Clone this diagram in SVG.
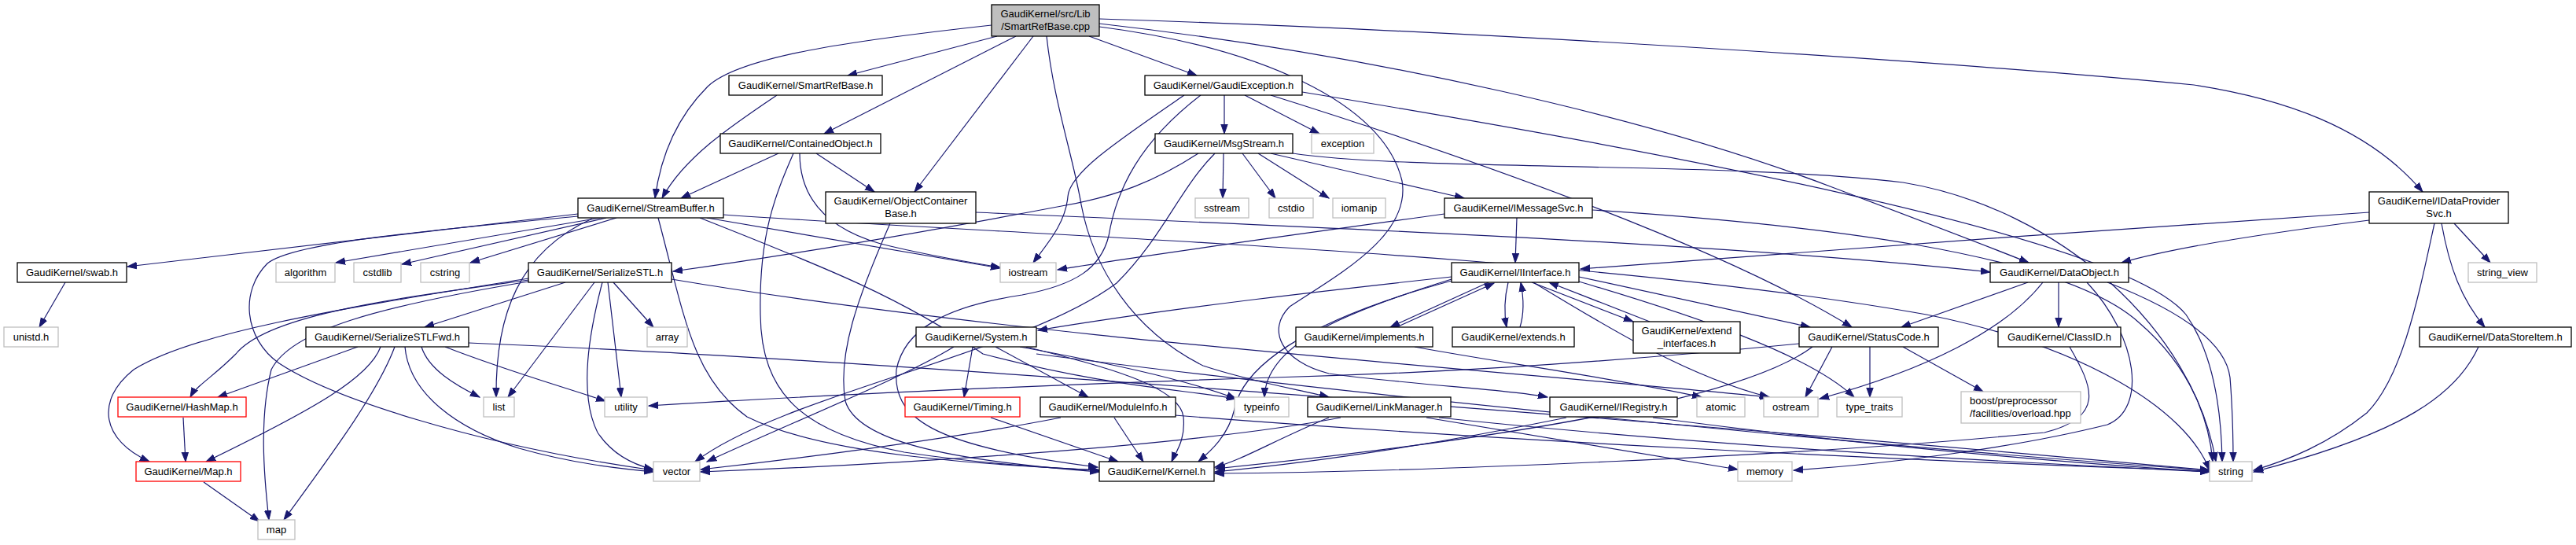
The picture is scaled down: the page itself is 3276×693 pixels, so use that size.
<svg xmlns="http://www.w3.org/2000/svg" width="3276" height="693" viewBox="0 0 3276 693">
<defs>
<style>
.n rect{fill:#fff;stroke:#000;stroke-width:1.3}
.g rect{fill:#fff;stroke:#bfbfbf;stroke-width:1.3}
.r rect{fill:#fff;stroke:#ff0000;stroke-width:1.3}
.root rect{fill:#bfbfbf;stroke:#000;stroke-width:1.3}
text{font-family:"Liberation Sans",Arial,sans-serif;font-size:13px;fill:#000;text-anchor:middle}
.l text{text-anchor:start}
#edges path{fill:none;stroke:#191970;stroke-width:1.2;marker-end:url(#a)}
</style>
<marker id="a" markerWidth="13" markerHeight="10" refX="12" refY="5" orient="auto" markerUnits="userSpaceOnUse"><path d="M0,0.8 L12,5 L0,9.2 z" fill="#191970" stroke="#191970" stroke-width="1"/></marker>
</defs>
<rect width="3276" height="693" fill="#fff"/>
<g id="edges">
<path d="M1261,32 C1080,52 940,72 900,110 C860,150 840,200 833,252"/>
<path d="M1268,46 L1078,96"/>
<path d="M1292,46 L1048,170"/>
<path d="M1314,46 L1163,244"/>
<path d="M1331,46 C1340,130 1365,200 1375,260 C1390,340 1440,420 1530,465 C1590,485 1650,495 1690,505"/>
<path d="M1385,46 L1522,96"/>
<path d="M1398,24 C1900,40 2500,80 2790,108 C2900,125 3010,160 3081,244"/>
<path d="M1398,30 C1750,70 2100,150 2330,238 C2420,272 2520,310 2580,334"/>
<path d="M1398,34 C1600,60 1760,130 1783,230 C1795,300 1700,350 1640,390 C1610,420 1630,460 1690,475 C1800,490 1920,495 1968,505"/>
<path d="M988,121 C930,160 870,200 842,252"/>
<path d="M990,195 L866,252"/>
<path d="M1017,195 C1017,250 1050,290 1120,310 C1180,325 1230,333 1272,340"/>
<path d="M1038,195 L1112,244"/>
<path d="M1009,195 C985,250 965,300 967,400 C968,500 1020,550 1150,575 C1250,590 1330,595 1398,598"/>
<path d="M1557,121 L1557,170"/>
<path d="M1583,121 L1678,170"/>
<path d="M1616,121 C1900,210 2200,320 2355,416"/>
<path d="M1656,117 C2100,190 2700,300 2780,400 C2815,450 2825,520 2826,587"/>
<path d="M1506,121 C1420,180 1360,220 1358,250 C1355,285 1330,312 1314,334"/>
<path d="M1527,121 C1450,180 1420,240 1410,300 C1400,340 1370,362 1300,375 C1200,390 1150,420 1140,470 C1135,530 1180,567 1396,594"/>
<path d="M1545,195 C1500,240 1480,300 1420,360 C1300,450 1000,500 884,587"/>
<path d="M1556,195 L1555,252"/>
<path d="M1580,195 L1622,252"/>
<path d="M1600,195 L1690,252"/>
<path d="M1616,195 L1862,252"/>
<path d="M1524,195 C1470,230 1420,250 1350,262 C1150,300 1000,325 856,345"/>
<path d="M1644,195 C1800,218 2200,205 2420,232 C2620,265 2790,420 2818,587"/>
<path d="M1929,277 L1927,334"/>
<path d="M1837,272 C1600,305 1450,325 1345,343"/>
<path d="M2025,267 C2300,285 2620,320 2720,410 C2790,470 2810,540 2814,587"/>
<path d="M3013,270 C2700,290 2300,320 2010,342"/>
<path d="M3013,280 C2870,298 2760,316 2698,334"/>
<path d="M3121,284 L3167,334"/>
<path d="M3105,284 C3115,340 3130,380 3160,416"/>
<path d="M3096,284 C3075,380 3055,480 3010,525 C2960,565 2910,585 2866,598"/>
<path d="M3152,441 C3125,500 3060,550 2866,600"/>
<path d="M2579,359 L2418,416"/>
<path d="M2618,359 L2618,416"/>
<path d="M2598,359 C2550,420 2450,470 2314,507"/>
<path d="M2654,359 C2720,430 2730,520 2680,540 C2560,570 2400,590 2281,598"/>
<path d="M2680,359 C2760,390 2830,430 2836,480 C2840,530 2840,560 2840,587"/>
<path d="M2330,441 L2296,505"/>
<path d="M2378,441 L2378,505"/>
<path d="M2420,441 L2522,498"/>
<path d="M2288,437 C2000,465 1800,475 1620,480 C1300,490 1000,505 825,516"/>
<path d="M2305,441 C2200,520 1800,570 1546,596"/>
<path d="M1846,352 C1700,368 1500,390 1320,420"/>
<path d="M1893,359 L1768,416"/>
<path d="M1776,416 L1900,360"/>
<path d="M1918,359 C1913,380 1913,400 1916,416"/>
<path d="M1933,416 C1938,400 1938,380 1934,359"/>
<path d="M1948,359 L2077,409"/>
<path d="M2098,409 L1970,359"/>
<path d="M2008,352 L2302,416"/>
<path d="M1846,357 C1650,410 1580,470 1570,520 C1562,555 1538,575 1524,587"/>
<path d="M1846,355 C1700,400 1610,440 1608,505"/>
<path d="M1950,359 C2050,420 2150,480 2250,505"/>
<path d="M2008,358 C2150,400 2300,450 2358,505"/>
<path d="M1799,441 C1900,460 2050,480 2164,505"/>
<path d="M1213,441 C1150,480 1000,540 899,587"/>
<path d="M1237,441 L1226,505"/>
<path d="M1266,441 L1384,505"/>
<path d="M1297,441 C1400,460 1500,480 1572,507"/>
<path d="M1305,441 C1400,465 1500,490 1505,530 C1508,560 1495,575 1490,587"/>
<path d="M1318,450 C1700,500 2400,570 2810,598"/>
<path d="M1260,531 L1422,587"/>
<path d="M1417,531 L1454,587"/>
<path d="M1349,531 C1200,560 1000,585 891,597"/>
<path d="M1494,528 C1900,560 2400,585 2810,599"/>
<path d="M1705,531 C1500,570 1100,592 891,600"/>
<path d="M1690,531 C1620,560 1580,585 1545,594"/>
<path d="M1814,531 L2210,597"/>
<path d="M1830,531 C2200,570 2600,590 2810,600"/>
<path d="M1992,531 C1800,570 1650,590 1545,600"/>
<path d="M2102,531 C2400,570 2650,590 2810,600"/>
<path d="M2632,441 C2660,490 2680,530 2600,550 C2300,580 1800,600 1545,602"/>
<path d="M719,359 L540,416"/>
<path d="M672,356 C500,380 340,400 300,450 C270,480 250,490 242,505"/>
<path d="M672,354 C450,390 250,420 170,470 C120,510 130,560 190,587"/>
<path d="M672,358 C480,390 370,420 345,470 C330,530 335,600 342,661"/>
<path d="M756,359 L646,505"/>
<path d="M766,359 C750,420 735,500 760,550 C780,580 810,592 831,597"/>
<path d="M773,359 C780,420 785,460 790,505"/>
<path d="M780,359 L831,416"/>
<path d="M854,355 C1300,430 1900,470 2250,505"/>
<path d="M455,441 L277,505"/>
<path d="M484,441 C470,480 400,520 262,587"/>
<path d="M502,441 C480,500 420,580 361,661"/>
<path d="M536,441 C545,470 580,490 610,505"/>
<path d="M566,441 C640,470 710,490 770,510"/>
<path d="M515,441 C520,500 580,545 660,570 C730,590 790,596 831,600"/>
<path d="M596,436 C1200,460 2400,560 2810,598"/>
<path d="M233,531 L236,587"/>
<path d="M259,613 L330,663"/>
<path d="M83,359 L50,416"/>
<path d="M735,272 L162,339"/>
<path d="M763,277 L427,334"/>
<path d="M771,277 L511,336"/>
<path d="M784,277 L598,334"/>
<path d="M753,278 C660,320 630,400 631,505"/>
<path d="M735,275 C520,295 370,310 340,335 C305,370 310,430 355,462 C420,505 600,565 831,598"/>
<path d="M837,277 C870,400 880,480 950,530 C1050,580 1250,590 1398,598"/>
<path d="M899,277 L1272,341"/>
<path d="M890,277 C1050,340 1150,380 1250,450 C1400,490 1500,495 1572,507"/>
<path d="M920,273 C1300,300 2000,320 2450,400 C2650,440 2780,520 2810,598"/>
<path d="M1132,284 C1090,380 1065,450 1075,510 C1090,560 1200,585 1398,600"/>
<path d="M1241,270 C1700,290 2200,310 2531,346"/>
</g>
<g id="n0" class="root"><rect x="1261" y="6" width="137" height="40"/><text x="1329.5" y="22">GaudiKernel/src/Lib</text><text x="1329.5" y="38">/SmartRefBase.cpp</text></g>
<g id="n1" class="n"><rect x="927" y="96" width="195" height="25"/><text x="1024.5" y="113">GaudiKernel/SmartRefBase.h</text></g>
<g id="n2" class="n"><rect x="1456" y="96" width="200" height="25"/><text x="1556" y="113">GaudiKernel/GaudiException.h</text></g>
<g id="n3" class="n"><rect x="916" y="170" width="204" height="25"/><text x="1018" y="187">GaudiKernel/ContainedObject.h</text></g>
<g id="n4" class="n"><rect x="1469" y="170" width="175" height="25"/><text x="1556.5" y="187">GaudiKernel/MsgStream.h</text></g>
<g id="n5" class="g"><rect x="1668" y="170" width="79" height="25"/><text x="1707.5" y="187">exception</text></g>
<g id="n6" class="n"><rect x="735" y="252" width="185" height="25"/><text x="827.5" y="269">GaudiKernel/StreamBuffer.h</text></g>
<g id="n7" class="n"><rect x="1050" y="244" width="191" height="40"/><text x="1145.5" y="260">GaudiKernel/ObjectContainer</text><text x="1145.5" y="276">Base.h</text></g>
<g id="n8" class="g"><rect x="1520" y="252" width="68" height="25"/><text x="1554" y="269">sstream</text></g>
<g id="n9" class="g"><rect x="1614" y="252" width="56" height="25"/><text x="1642" y="269">cstdio</text></g>
<g id="n10" class="g"><rect x="1695" y="252" width="67" height="25"/><text x="1728.5" y="269">iomanip</text></g>
<g id="n11" class="n"><rect x="1837" y="252" width="188" height="25"/><text x="1931" y="269">GaudiKernel/IMessageSvc.h</text></g>
<g id="n12" class="n"><rect x="3013" y="244" width="177" height="40"/><text x="3101.5" y="260">GaudiKernel/IDataProvider</text><text x="3101.5" y="276">Svc.h</text></g>
<g id="n13" class="n"><rect x="22" y="334" width="139" height="25"/><text x="91.5" y="351">GaudiKernel/swab.h</text></g>
<g id="n14" class="g"><rect x="351" y="334" width="75" height="25"/><text x="388.5" y="351">algorithm</text></g>
<g id="n15" class="g"><rect x="450" y="334" width="60" height="25"/><text x="480" y="351">cstdlib</text></g>
<g id="n16" class="g"><rect x="535" y="334" width="62" height="25"/><text x="566" y="351">cstring</text></g>
<g id="n17" class="n"><rect x="672" y="334" width="182" height="25"/><text x="763" y="351">GaudiKernel/SerializeSTL.h</text></g>
<g id="n18" class="g"><rect x="1272" y="334" width="71" height="25"/><text x="1307.5" y="351">iostream</text></g>
<g id="n19" class="n"><rect x="1846" y="334" width="162" height="25"/><text x="1927" y="351">GaudiKernel/IInterface.h</text></g>
<g id="n20" class="n"><rect x="2531" y="334" width="176" height="25"/><text x="2619" y="351">GaudiKernel/DataObject.h</text></g>
<g id="n21" class="g"><rect x="3139" y="334" width="87" height="25"/><text x="3182.5" y="351">string_view</text></g>
<g id="n22" class="g"><rect x="5" y="416" width="69" height="25"/><text x="39.5" y="433">unistd.h</text></g>
<g id="n23" class="n"><rect x="389" y="416" width="207" height="25"/><text x="492.5" y="433">GaudiKernel/SerializeSTLFwd.h</text></g>
<g id="n24" class="g"><rect x="823" y="416" width="51" height="25"/><text x="848.5" y="433">array</text></g>
<g id="n25" class="n"><rect x="1165" y="416" width="153" height="25"/><text x="1241.5" y="433">GaudiKernel/System.h</text></g>
<g id="n26" class="n"><rect x="1648" y="416" width="174" height="25"/><text x="1735" y="433">GaudiKernel/implements.h</text></g>
<g id="n27" class="n"><rect x="1847" y="416" width="155" height="25"/><text x="1924.5" y="433">GaudiKernel/extends.h</text></g>
<g id="n28" class="n"><rect x="2077" y="409" width="136" height="40"/><text x="2145" y="425">GaudiKernel/extend</text><text x="2145" y="441">_interfaces.h</text></g>
<g id="n29" class="n"><rect x="2288" y="416" width="177" height="25"/><text x="2376.5" y="433">GaudiKernel/StatusCode.h</text></g>
<g id="n30" class="n"><rect x="2541" y="416" width="156" height="25"/><text x="2619" y="433">GaudiKernel/ClassID.h</text></g>
<g id="n31" class="n"><rect x="3077" y="416" width="193" height="25"/><text x="3173.5" y="433">GaudiKernel/DataStoreItem.h</text></g>
<g id="n32" class="r"><rect x="150" y="505" width="163" height="25"/><text x="231.5" y="522">GaudiKernel/HashMap.h</text></g>
<g id="n33" class="g"><rect x="615" y="505" width="39" height="25"/><text x="634.5" y="522">list</text></g>
<g id="n34" class="g"><rect x="769" y="505" width="54" height="25"/><text x="796" y="522">utility</text></g>
<g id="n35" class="r"><rect x="1151" y="505" width="146" height="25"/><text x="1224" y="522">GaudiKernel/Timing.h</text></g>
<g id="n36" class="n"><rect x="1323" y="505" width="172" height="25"/><text x="1409" y="522">GaudiKernel/ModuleInfo.h</text></g>
<g id="n37" class="g"><rect x="1570" y="505" width="69" height="25"/><text x="1604.5" y="522">typeinfo</text></g>
<g id="n38" class="n"><rect x="1663" y="505" width="182" height="25"/><text x="1754" y="522">GaudiKernel/LinkManager.h</text></g>
<g id="n39" class="n"><rect x="1971" y="505" width="162" height="25"/><text x="2052" y="522">GaudiKernel/IRegistry.h</text></g>
<g id="n40" class="g"><rect x="2158" y="505" width="61" height="25"/><text x="2188.5" y="522">atomic</text></g>
<g id="n41" class="g"><rect x="2243" y="505" width="69" height="25"/><text x="2277.5" y="522">ostream</text></g>
<g id="n42" class="g"><rect x="2336" y="505" width="83" height="25"/><text x="2377.5" y="522">type_traits</text></g>
<g id="n43" class="g l"><rect x="2494" y="498" width="152" height="40"/><text x="2505" y="514">boost/preprocessor</text><text x="2505" y="530">/facilities/overload.hpp</text></g>
<g id="n44" class="r"><rect x="173" y="587" width="133" height="25"/><text x="239.5" y="604">GaudiKernel/Map.h</text></g>
<g id="n45" class="g"><rect x="831" y="587" width="59" height="25"/><text x="860.5" y="604">vector</text></g>
<g id="n46" class="n"><rect x="1398" y="587" width="146" height="25"/><text x="1471" y="604">GaudiKernel/Kernel.h</text></g>
<g id="n47" class="g"><rect x="2210" y="587" width="69" height="25"/><text x="2244.5" y="604">memory</text></g>
<g id="n48" class="g"><rect x="2810" y="587" width="54" height="25"/><text x="2837" y="604">string</text></g>
<g id="n49" class="g"><rect x="328" y="661" width="47" height="25"/><text x="351.5" y="678">map</text></g>
</svg>
